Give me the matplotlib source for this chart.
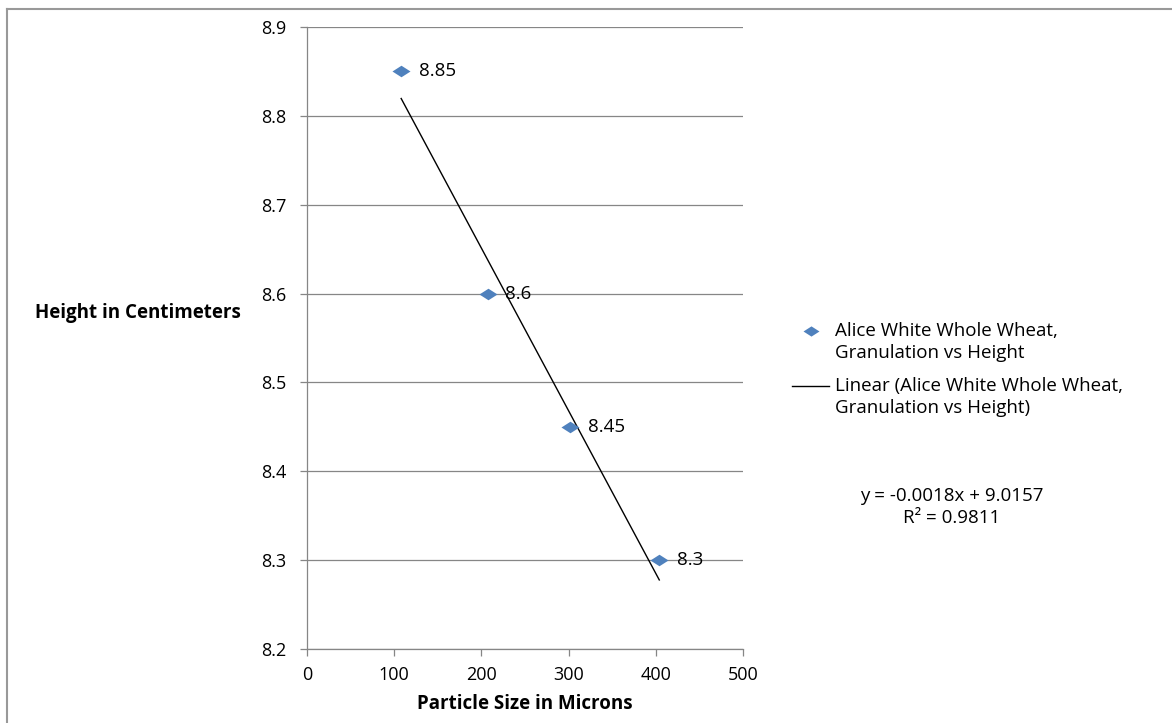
import matplotlib
matplotlib.use("Agg")
import matplotlib.pyplot as plt
from matplotlib.lines import Line2D
from matplotlib.legend_handler import HandlerLine2D
import numpy as np

plt.rcParams['font.family'] = ['Open Sans', 'DejaVu Sans']

# data
particle_size = [108, 207, 302, 404]
height_cm = [8.85, 8.6, 8.45, 8.3]
point_labels = ["8.85", "8.6", "8.45", "8.3"]
series_name = "Alice White Whole Wheat,\nGranulation vs Height"
trend_name = "Linear (Alice White Whole Wheat,\nGranulation vs Height)"
equation_text = "y = -0.0018x + 9.0157"
r2_text = "R² = 0.9811"

blue = "#4F81BD"
grid_gray = "#868686"
# wide diamond like the Excel marker
diamond = [(-1, 0), (0, 0.64), (1, 0), (0, -0.64), (-1, 0)]


class FirstLineHandler(HandlerLine2D):
    # put the legend glyph level with the first text line, like Excel does
    def create_artists(self, legend, orig_handle, xdescent, ydescent, width,
                       height, fontsize, trans):
        arts = super().create_artists(legend, orig_handle, xdescent, ydescent,
                                      width, height, fontsize, trans)
        for a in arts:
            a.set_ydata(np.asarray(a.get_ydata()) + 8.0)
        return arts


fig = plt.figure(figsize=(11.72, 7.23), dpi=100)
ax = fig.add_axes([307 / 1172, 1 - 649 / 723, 436 / 1172, 622 / 723])

# outer chart border (only top and left edges visible)
fig.add_artist(Line2D([7 / 1172, 1.0], [1 - 8.5 / 723] * 2, color="#999999", lw=1.5))
fig.add_artist(Line2D([7 / 1172] * 2, [0, 1 - 8.5 / 723], color="#999999", lw=1.5))

# linear trendline through the points
slope, intercept = np.polyfit(particle_size, height_cm, 1)
xs = np.array([min(particle_size), max(particle_size)])
ax.plot(xs, slope * xs + intercept, color="black", lw=1.0, zorder=3)

ax.plot(particle_size, height_cm, ls="none", marker=diamond, ms=13,
        color=blue, markeredgewidth=0, zorder=4)
for x, y, lab in zip(particle_size, height_cm, point_labels):
    ax.annotate(lab, (x, y), xytext=(12.5, 0), textcoords="offset points",
                va="center", ha="left", fontsize=13.5, zorder=5)

ax.set_xlim(0, 500)
ax.set_ylim(8.2, 8.9)
ax.set_xticks(np.arange(0, 501, 100))
ax.set_yticks(np.arange(8.2, 8.91, 0.1))
ax.set_yticklabels([f"{v:.1f}" for v in np.arange(8.2, 8.91, 0.1)])
ax.yaxis.grid(True, color=grid_gray, lw=0.9)
ax.set_axisbelow(True)
for s in ["top", "right"]:
    ax.spines[s].set_visible(False)
for s in ["left", "bottom"]:
    ax.spines[s].set_color(grid_gray)
    ax.spines[s].set_linewidth(0.9)
ax.tick_params(axis="both", color=grid_gray, length=5, width=0.9, labelsize=13)
ax.tick_params(axis="y", pad=10)
ax.tick_params(axis="x", pad=7.5)

ax.set_xlabel("Particle Size in Microns", fontsize=13.5, fontweight="bold", labelpad=7)
fig.text(35 / 1172, 1 - 313 / 723, "Height in Centimeters", fontsize=13.5,
         fontweight="bold", va="center", ha="left")

# legend
handles = [
    Line2D([], [], marker=diamond, ls="none", color=blue, markersize=11.5,
           markeredgewidth=0),
    Line2D([], [], color="black", lw=1.0),
]
leg = ax.legend(handles, [series_name, trend_name], loc="upper left",
                bbox_to_anchor=(792 / 1172, 1 - 322 / 723),
                bbox_transform=fig.transFigure, frameon=False, fontsize=13.5,
                handlelength=2.0, handletextpad=0.3, labelspacing=0.8,
                borderaxespad=0, borderpad=0,
                handler_map={Line2D: FirstLineHandler()})
for t in leg.get_texts():
    t.set_linespacing(1.28)

fig.text(952 / 1172, 1 - 496 / 723, equation_text, fontsize=13.5, ha="center", va="center")
fig.text(952 / 1172, 1 - 518 / 723, r2_text, fontsize=13.5, ha="center", va="center")

fig.savefig("out.png", dpi=100)
